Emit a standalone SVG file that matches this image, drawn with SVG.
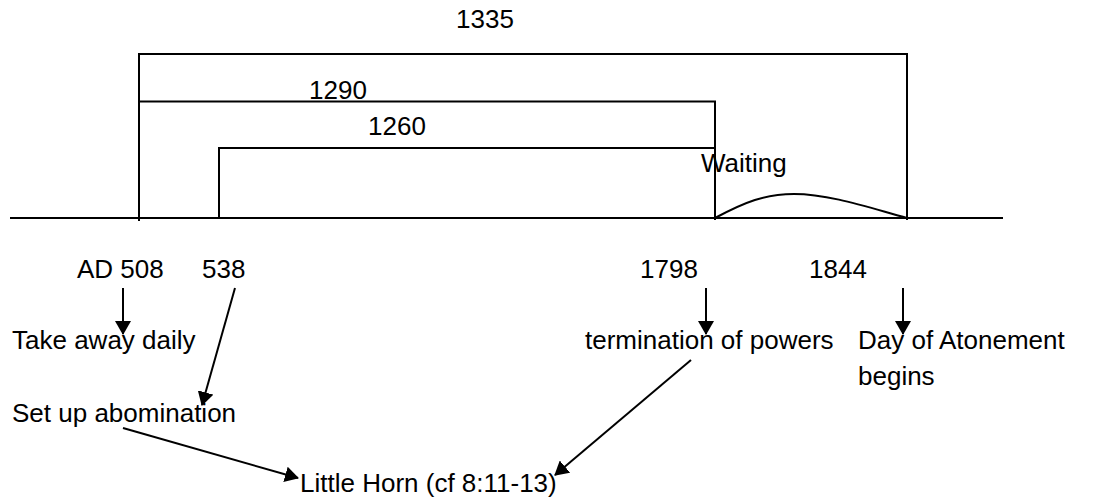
<svg xmlns="http://www.w3.org/2000/svg" width="1102" height="499" viewBox="0 0 1102 499">
<style>
.ln{stroke:#000;stroke-width:2;fill:none}
.t{font-family:"Liberation Sans",Arial,sans-serif;font-size:26px;fill:#000}
.ar{stroke:#000;stroke-width:2;fill:none;marker-end:url(#ah)}
</style>
<defs>
<marker id="ah" viewBox="0 0 14 16" refX="13" refY="8" markerWidth="14" markerHeight="16" orient="auto" markerUnits="userSpaceOnUse">
<path d="M0,0 L14,8 L0,16 z" fill="#000"/>
</marker>
</defs>
<rect width="1102" height="499" fill="#fff"/>
<g id="timeline">
<line class="ln" x1="10" y1="218" x2="1003" y2="218"/>
</g>
<g id="period-1335">
<path class="ln" d="M139,221 V54 H907 V220"/>
<text class="t" x="456" y="28">1335</text>
</g>
<g id="period-1290">
<path class="ln" d="M139,101.5 H715 V220"/>
<text class="t" x="309" y="99">1290</text>
</g>
<g id="period-1260">
<path class="ln" d="M219,219 V148 H715"/>
<text class="t" x="368" y="135">1260</text>
</g>
<g id="waiting">
<path class="ln" d="M715,218 C745,202 765,194 794,194 C830,194 870,208 907,218"/>
<text class="t" x="701" y="172">Waiting</text>
</g>
<g id="ad508"><text class="t" x="77" y="278">AD 508</text></g>
<g id="y538"><text class="t" x="202" y="278">538</text></g>
<g id="y1798"><text class="t" x="640" y="278">1798</text></g>
<g id="y1844"><text class="t" x="809" y="278">1844</text></g>
<g id="take-away"><text class="t" x="12" y="349">Take away daily</text></g>
<g id="set-up"><text class="t" x="12" y="422">Set up abomination</text></g>
<g id="termination"><text class="t" x="585" y="349">termination of powers</text></g>
<g id="atonement"><text class="t" x="858" y="349">Day of Atonement</text><text class="t" x="858" y="385">begins</text></g>
<g id="little-horn"><text class="t" x="300" y="492">Little Horn (cf 8:11-13)</text></g>
<g id="connectors">
<line class="ar" x1="123" y1="288" x2="123" y2="334"/>
<line class="ar" x1="235" y1="288" x2="202" y2="405"/>
<line class="ar" x1="123" y1="428" x2="298" y2="478"/>
<line class="ar" x1="706" y1="288" x2="706" y2="334"/>
<line class="ar" x1="903" y1="288" x2="903" y2="334"/>
<line class="ar" x1="691" y1="360" x2="555" y2="475"/>
</g>
</svg>
